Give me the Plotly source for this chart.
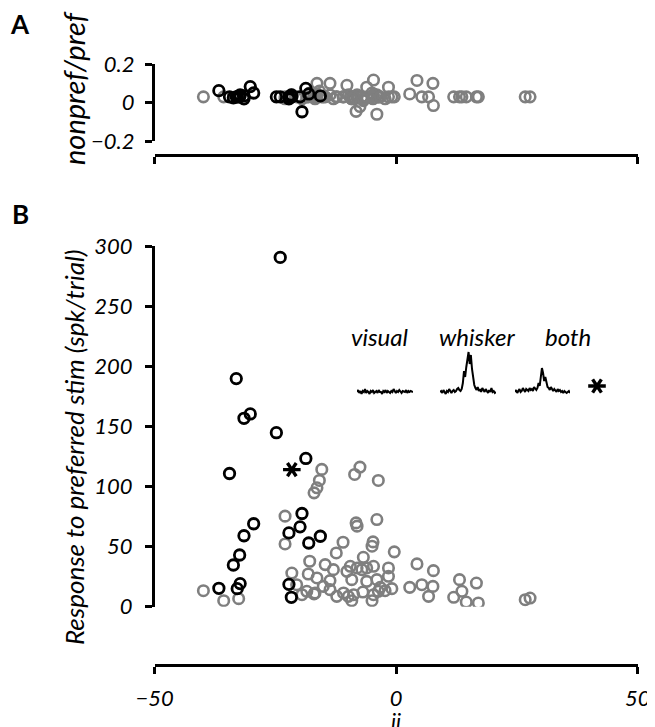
import plotly.graph_objects as go

# ---------------- data ----------------
# black neurons: ii, response (B), nonpref/pref ratio (A)
black_ii = [-24.0, -33.1, -31.5, -30.2, -24.8, -18.7, -34.5, -19.5, -29.5, -19.9, -31.5,
            -22.2, -15.7, -18.1, -32.4, -33.7, -32.3, -32.9, -36.7, -22.2, -21.7]
black_resp = [290.5, 189.7, 156.7, 160.3, 144.7, 123.3, 110.8, 77.5, 69.0, 66.4, 59.0,
              61.4, 58.6, 53.0, 43.0, 34.7, 19.2, 15.0, 15.3, 18.6, 7.8]
black_ratio = [0.03, 0.03, 0.035, 0.083, 0.03, 0.074, 0.03, -0.047, 0.05, 0.03, 0.02,
               0.03, 0.035, 0.045, 0.03, 0.025, 0.04, 0.03, 0.062, 0.02, 0.04]

# the example neuron (asterisk)
star_ii = [-21.6]
star_resp = [114.0]
star_ratio = [0.03]

# gray neurons
gray_ii = [-39.9, -35.7, -32.6, -23.0, -23.0, -21.6, -20.6, -19.5, -18.5, -17.9, -18.2, -17.0,
           -15.4, -15.9, -16.4, -17.0, -7.5, -8.6, -3.7, -4.0, -8.3, -8.1, -11.0, -4.8,
           -5.0, -12.4, -0.4, -6.8, -14.7, -13.0, -9.5, -8.1, -6.1, -4.7, -1.6, -10.2,
           -7.1, 4.3, 7.7, -1.6, -4.0, -6.1, -9.2, -16.4, -13.7, 5.3, 2.8, 7.6,
           13.1, 13.6, 11.9, 6.7, -0.9, -2.3, -3.7, -4.7, -5.0, -6.9, -8.8, -9.9,
           -10.9, -9.2, -12.3, -13.7, -15.1, -16.8, -3.3, 16.6, 14.5, 17.0, 26.7, 27.7]
gray_resp = [13.3, 5.0, 6.7, 75.3, 52.2, 28.0, 18.3, 10.0, 12.8, 37.8, 27.2, 10.6,
             114.2, 105.0, 98.9, 94.7, 116.1, 110.0, 105.0, 72.5, 69.7, 67.0, 53.6, 53.9,
             50.3, 44.7, 45.6, 41.1, 35.0, 30.8, 33.6, 32.2, 32.2, 33.6, 32.2, 29.4,
             30.8, 35.6, 30.0, 25.3, 22.5, 21.1, 22.5, 23.9, 21.7, 18.3, 16.1, 16.9,
             22.5, 12.8, 7.8, 8.6, 15.0, 13.3, 12.8, 10.0, 5.0, 12.2, 10.0, 8.6,
             11.4, 5.0, 8.6, 14.2, 16.9, 11.4, 16.1, 19.7, 3.9, 3.1, 5.8, 7.2]
gray_ratio = [0.03, 0.03, 0.03, 0.03, 0.02, 0.04, 0.03, 0.02, 0.03, 0.05, 0.03, 0.04,
              0.03, 0.06, 0.10, 0.03, -0.02, 0.02, 0.03, 0.04, -0.045, 0.03, 0.03, 0.02,
              0.05, 0.03, 0.03, 0.01, 0.03, 0.02, 0.03, 0.04, 0.08, 0.117, 0.03, 0.09,
              0.03, 0.115, -0.015, 0.08, -0.06, 0.03, 0.02, 0.03, 0.10, 0.03, 0.045, 0.10,
              0.03, 0.03, 0.03, 0.03, 0.03, 0.02, 0.03, 0.04, 0.03, 0.02, 0.03, 0.04,
              0.03, 0.02, 0.03, 0.04, 0.03, 0.02, 0.03, 0.03, 0.03, 0.03, 0.03, 0.03]

# example PSTHs (inset)
visual_psth = [5, 7, 4, 6, 3, 6, 5, 8, 4, 6, 5, 3, 6, 5, 7, 4, 5, 6, 4, 7, 5, 5, 3, 6, 5,
               7, 4, 6, 5, 4, 6, 5, 8, 5, 4, 6, 5, 7, 5, 4, 6, 5, 5, 7, 4, 6, 5, 6, 5, 5]
whisker_psth = [5, 6, 4, 7, 5, 3, 6, 5, 8, 5, 4, 6, 7, 5, 6, 8, 9, 7, 6, 8,
                14, 26, 20, 30, 38, 45, 33, 42, 28, 18,
                12, 9, 7, 10, 6, 8, 5, 9, 7, 5, 8, 6, 4, 7, 5, 9, 5, 6, 4, 5]
both_psth = [5, 7, 4, 6, 8, 5, 6, 9, 6, 5, 8, 7, 6, 9, 7, 8, 6, 10, 8, 7,
             9, 14, 11, 18, 29, 24, 16, 20, 13, 10,
             9, 7, 10, 8, 6, 8, 7, 5, 8, 6, 7, 5, 6, 4, 6, 5, 4, 5, 6, 4]
psth_labels = ["visual", "whisker", "both"]

x_ticks = [-50, 0, 50]
x_ticktext = ["\u221250", "0", "50"]
a_ticks = [-0.2, 0, 0.2]
a_ticktext = ["\u22120.2", "0", "0.2"]
b_ticks = [0, 50, 100, 150, 200, 250, 300]

# ---------------- layout helpers ----------------
# the page body has an 8px margin, so the figure is 8px smaller and positions are offset
OFF = 8
W, H = 655 - OFF, 727 - OFF
def fx(p):
    return (p - OFF) / W
def fy(p):
    return 1 - (p - OFF) / H

FONT = "Lato"
GRAY = "#7f7f7f"
xdom = [fx(154.6), fx(637.8)]

fig = go.Figure()

def circ(color, w):
    return dict(symbol="circle-open", size=10.5, color=color, line=dict(color=color, width=w))

# Panel A
fig.add_trace(go.Scatter(x=gray_ii, y=gray_ratio, mode="markers", marker=circ(GRAY, 2.6),
                         xaxis="x", yaxis="y", cliponaxis=False))
fig.add_trace(go.Scatter(x=black_ii + star_ii, y=black_ratio + star_ratio, mode="markers",
                         marker=circ("black", 2.8), xaxis="x", yaxis="y", cliponaxis=False))
# Panel B
fig.add_trace(go.Scatter(x=gray_ii, y=gray_resp, mode="markers", marker=circ(GRAY, 2.6),
                         xaxis="x2", yaxis="y2"))
fig.add_trace(go.Scatter(x=black_ii, y=black_resp, mode="markers", marker=circ("black", 2.8),
                         xaxis="x2", yaxis="y2"))
STAR_SYMS = ["y-left-open", "y-right-open"]
for sym in STAR_SYMS:
    fig.add_trace(go.Scatter(x=star_ii, y=star_resp, mode="markers",
                             marker=dict(symbol=sym, size=11, color="black",
                                         line=dict(color="black", width=3.4)),
                             xaxis="x2", yaxis="y2"))

# inset PSTHs
for i, psth in enumerate([visual_psth, whisker_psth, both_psth]):
    fig.add_trace(go.Scatter(x=list(range(len(psth))), y=psth, mode="lines",
                             line=dict(color="black", width=2),
                             xaxis=f"x{3 + i}", yaxis=f"y{3 + i}"))
# key asterisk
for sym in STAR_SYMS:
    fig.add_trace(go.Scatter(x=[0], y=[0], mode="markers",
                             marker=dict(symbol=sym, size=11, color="black",
                                         line=dict(color="black", width=3.4)),
                             xaxis="x6", yaxis="y6"))

tickfont = dict(family=FONT, size=22, color="black", style="italic")
axis_common = dict(showline=True, linecolor="black", linewidth=2.5, ticks="outside",
                   ticklen=7, tickwidth=2.5, tickcolor="black", showgrid=False,
                   zeroline=False, tickfont=tickfont, automargin=False)

layout = dict(
    width=W, height=H, autosize=False,
    margin=dict(l=0, r=0, t=0, b=0, autoexpand=False),
    paper_bgcolor="white", plot_bgcolor="white", showlegend=False,
    xaxis=dict(domain=xdom, range=[-50, 50], anchor="free", position=fy(155),
               tickvals=x_ticks, showticklabels=False, **axis_common),
    yaxis=dict(domain=[fy(141.3), fy(64)], range=[-0.2, 0.2], anchor="x",
               tickvals=a_ticks, ticktext=a_ticktext, ticklabelstandoff=6, **axis_common),
    xaxis2=dict(domain=xdom, range=[-50, 50], anchor="free", position=fy(665),
                tickvals=x_ticks, ticktext=x_ticktext, ticklabelstandoff=6, **axis_common),
    yaxis2=dict(domain=[fy(606.7), fy(246)], range=[0, 300], anchor="x2",
                tickvals=b_ticks, ticklabelstandoff=8, **axis_common),
)
inset_x = [(357, 413), (440, 496), (515, 570)]
for i, (a, b) in enumerate(inset_x):
    layout[f"xaxis{3 + i}"] = dict(domain=[fx(a), fx(b)], range=[0, 49], visible=False,
                                   anchor=f"y{3 + i}")
    layout[f"yaxis{3 + i}"] = dict(domain=[fy(397), fy(347)], range=[0, 50], visible=False,
                                   anchor=f"x{3 + i}")
layout["xaxis6"] = dict(domain=[fx(587), fx(607)], range=[-1, 1], visible=False, anchor="y6")
layout["yaxis6"] = dict(domain=[fy(396), fy(376)], range=[-1, 1], visible=False, anchor="x6")

fig.update_layout(**layout)

def ann(text, x, y, size, angle=0, bold=False, yanchor="middle"):
    return dict(text=f"<b>{text}</b>" if bold else text, x=fx(x), y=fy(y),
                xref="paper", yref="paper", showarrow=False, textangle=angle,
                xanchor="center", yanchor=yanchor, borderpad=0,
                font=dict(family=FONT, size=size, color="black",
                          style="normal" if bold else "italic"))

annotations = [
    ann("A", 20, 24, 26, bold=True),
    ann("B", 20, 214, 26, bold=True),
    ann("nonpref/pref", 74, 88, 29, angle=-90),
    ann("Response to preferred stim (spk/trial)", 74, 447, 26, angle=-90),
    ann("ii", 396, 706, 22, yanchor="top"),
]
for lab, cx in zip(psth_labels, [380, 477, 568]):
    annotations.append(ann(lab, cx, 337, 24))
fig.update_layout(annotations=annotations)

fig.write_html("out.html")
